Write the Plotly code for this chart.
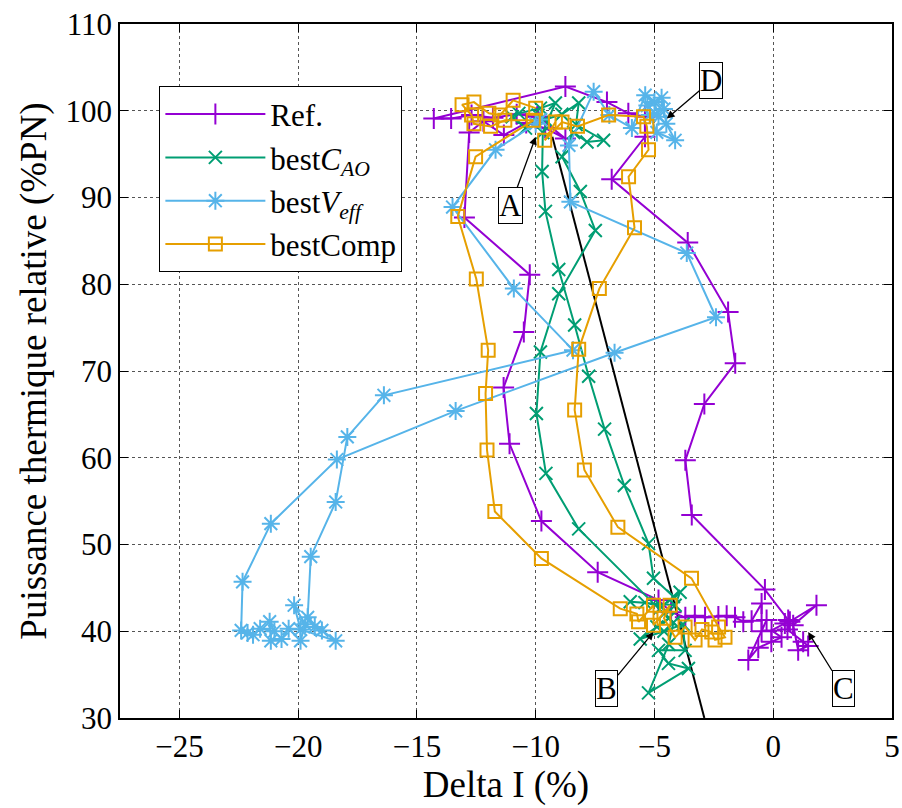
import plotly.graph_objects as go

# ---------------- data ----------------
ref_x = [-9.9, -8.75, -9.6, -10.4, -11.34, -12.2, -12.8,
         -13.0, -10.25, -10.5, -11.35, -11.1, -9.76, -7.39, -4.83,
         -4.3, -3.7, -3.3, -2.87, -2.31, -1.96, -1.61, -1.26, -0.91, -0.49, -0.49, -0.28,
         -1.05, -0.63, -0.08, 0.35, -0.07, 0.49, 0.7, 1.82, 0.84, 1.05, 1.47, 1.26, 0.6, 0.63, -0.35,
         -3.43, -3.7, -2.9, -1.6, -1.9, -3.6, -6.8, -5.4,
         -5.4, -6.1, -7.0, -8.75, -14.29, -13.56, -12.7, -11.8, -10.8, -9.94]
ref_y = [99.3, 96.8, 98.0, 98.6, 97.2, 98.8, 97.5,
         87.7, 81.1, 74.5, 68.1, 61.6, 52.7, 46.8, 43.6,
         42.2, 41.6, 41.8, 41.6, 41.7, 41.8, 41.6, 41.1, 41.2, 43.2, 40.0, 41.3,
         36.7, 38.1, 38.8, 39.3, 40.1, 40.9, 41.1, 43.0, 40.7, 37.8, 38.3, 38.8, 40.2, 41.3, 44.8,
         53.4, 59.7, 66.2, 70.9, 76.8, 84.8, 92.1, 97.0,
         99.3, 99.7, 101.0, 102.8, 99.1, 99.1, 99.5, 99.2, 99.6, 99.3]

cao_x = [-9.9, -10.43, -10.99, -10.71, -9.8, -9.17, -9.7,
         -9.73, -9.59, -9.03, -8.36, -7.77, -7.10, -6.27, -5.25, -5.04,
         -4.2, -3.92, -4.13, -6.02, -5.4, -4.69, -4.4, -4.9, -5.6, -4.6, -3.8, -3.71, -4.83,
         -4.41, -3.57, -5.25, -4.4, -4.2, -4.6,
         -8.19, -9.57, -9.97, -9.80, -9.03, -7.49, -8.12, -8.89,
         -8.4, -7.84, -7.14, -8.3, -8.19, -8.9, -9.6]
cao_y = [99.5, 98.0, 99.3, 99.7, 100.3, 100.9, 97.5,
         93.0, 88.4, 81.7, 75.3, 69.4, 63.3, 56.8, 50.1, 46.1,
         44.0, 44.5, 43.0, 43.4, 43.3, 42.8, 41.5, 40.5, 39.1, 40.0, 40.8, 37.8, 37.8,
         36.3, 35.7, 32.9, 38.5, 41.0, 42.0,
         51.8, 58.2, 65.1, 72.2, 78.9, 86.2, 90.7, 94.7,
         97.5, 96.4, 96.6, 98.4, 100.9, 99.6, 99.0]

veff_x = [-9.8, -10.0, -11.69, -13.5, -10.92, -8.43, -16.39, -17.93, -18.42, -19.47, -19.6,
          -19.3, -19.0, -18.42, -19.9, -20.17, -19.7, -19.9, -20.4, -20.7, -21.15, -21.2,
          -21.0, -21.6, -21.9, -22.13, -22.4,
          -22.34, -21.15, -18.37, -13.37, -6.68, -2.41, -3.64, -8.54, -8.6,
          -7.56, -6.9, -5.95, -5.39, -5.0, -4.83, -5.3, -4.7, -4.5, -4.13, -4.9, -5.2, -4.6]
veff_y = [99.0, 98.5, 95.5, 88.9, 79.5, 72.4, 67.2, 62.4, 54.9, 48.6, 41.6,
          40.5, 40.1, 38.9, 40.2, 43.0, 40.8, 38.9, 40.3, 39.1, 38.9, 41.1,
          40.0, 40.3, 39.6, 39.8, 40.1,
          45.7, 52.4, 59.8, 65.4, 72.1, 76.2, 83.6, 89.5, 96.0,
          102.2, 99.5, 98.0, 101.8, 101.0, 99.3, 100.6, 101.5, 98.5, 96.6, 97.5, 99.5, 100.2]

comp_x = [-10.0, -10.95, -11.5, -11.97, -12.6, -13.1, -12.7, -12.6, -11.9, -11.3, -10.1,
          -12.53, -13.28, -12.5, -12.0, -12.11, -12.05, -11.72, -9.76, -6.44,
          -5.74, -5.67, -5.04, -5.04, -4.34, -4.6, -4.13, -3.71, -3.29, -3.0, -2.59, -2.45, -2.03, -2.3, -3.44,
          -6.54, -7.95, -8.36, -8.19, -7.32, -5.84, -6.09, -5.25, -5.32, -5.46, -6.93, -8.24, -8.89, -9.62, -9.17]
comp_y = [100.3, 101.2, 99.5, 99.7, 101.0, 100.7, 99.5, 98.5, 98.2, 98.9, 98.9,
          94.7, 87.8, 80.6, 72.4, 67.4, 60.9, 53.8, 48.4, 42.6,
          42.0, 41.1, 43.0, 40.7, 43.0, 41.5, 39.3, 40.5, 39.0, 40.2, 39.9, 39.0, 39.3, 40.5, 46.1,
          52.0, 58.6, 65.5, 72.5, 79.5, 86.5, 92.4, 95.5, 98.2, 99.3, 99.5, 98.2, 98.7, 96.6, 98.7]

pilot_x = [-9.3, -2.9]
pilot_y = [97.0, 30.0]

labels = ["A", "B", "C", "D"]
label_head_x = [-10.0, -5.04, 1.47, -4.48]
label_head_y = [97.0, 39.9, 39.9, 99.1]
label_box_x = [-11.05, -7.0, 2.94, -2.6]
label_box_y = [89.1, 33.4, 33.4, 103.5]

x_ticks = [-25, -20, -15, -10, -5, 0, 5]
y_ticks = [30, 40, 50, 60, 70, 80, 90, 100, 110]

FONT = "Liberation Serif"
FS = 31
FT = 37
fig = go.Figure()

fig.add_trace(go.Scatter(x=pilot_x, y=pilot_y, mode="lines", showlegend=False,
                         line=dict(color="black", width=2), hoverinfo="skip"))

series = [
    ("Ref.", ref_x, ref_y, "#9400D3", "cross-thin-open", 15),
    ("best<i>C</i><sub><i>AO</i></sub>", cao_x, cao_y, "#009E73", "x-thin-open", 13),
    ("best<i>V</i><sub><i>eff</i></sub>", veff_x, veff_y, "#56B4E9", "asterisk-open", 15),
    ("bestComp", comp_x, comp_y, "#E69F00", "square-open", 13),
]
for name, xs, ys, col, sym, sz in series:
    fig.add_trace(go.Scatter(
        x=xs, y=ys, name=name, mode="lines+markers",
        line=dict(color=col, width=2),
        marker=dict(symbol=sym, size=sz, color=col, line=dict(color=col, width=2)),
    ))

for t, hx, hy, bx, by in zip(labels, label_head_x, label_head_y, label_box_x, label_box_y):
    fig.add_annotation(x=hx, y=hy, ax=bx, ay=by, xref="x", yref="y", axref="x", ayref="y",
                       text=t, showarrow=True, arrowhead=2, arrowsize=1.2, arrowwidth=1.3,
                       arrowcolor="black", bordercolor="black", borderwidth=1, borderpad=0,
                       bgcolor="white", font=dict(family=FONT, size=FS, color="black"))

axis_common = dict(showline=True, linecolor="black", linewidth=1.5, mirror="ticks",
                   ticks="inside", ticklen=8, tickcolor="black", tickwidth=1,
                   showgrid=True, gridcolor="#555555", griddash="dot", gridwidth=1,
                   zeroline=False, automargin=False, ticklabeloverflow="allow",
                   tickfont=dict(family=FONT, size=FS, color="black"))

fig.update_xaxes(range=[-27.5, 5], tickvals=x_ticks,
                 title=dict(text="Delta I (%)", font=dict(family=FONT, size=FT, color="black"), standoff=2),
                 **axis_common)
fig.update_yaxes(range=[30, 110], tickvals=y_ticks,
                 title=dict(text="Puissance thermique relative (%PN)", font=dict(family=FONT, size=FT, color="black"), standoff=8),
                 **axis_common)

fig.update_layout(
    width=902, height=808,
    margin=dict(l=120, r=10, t=24, b=90),
    plot_bgcolor="white", paper_bgcolor="white",
    font=dict(family=FONT, size=FS, color="black"),
    legend=dict(x=0.051, y=0.91, xanchor="left", yanchor="top",
                bgcolor="white", bordercolor="black", borderwidth=1,
                font=dict(family=FONT, size=FS, color="black"),
                itemwidth=100),
)

fig.write_html("out.html", config={"displayModeBar": False},
               post_script="document.body.style.margin='0';document.body.style.overflow='hidden';")
